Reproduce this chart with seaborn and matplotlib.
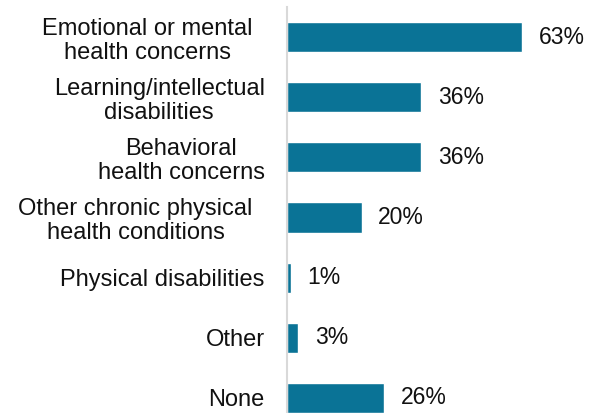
import matplotlib
matplotlib.use("Agg")
import matplotlib.pyplot as plt
import matplotlib.transforms as mtransforms
import seaborn as sns
import pandas as pd

categories = [
    "Emotional or mental\nhealth concerns",
    "Learning/intellectual\ndisabilities",
    "Behavioral\nhealth concerns",
    "Other chronic physical\nhealth conditions",
    "Physical disabilities",
    "Other",
    "None",
]
values = [63, 36, 36, 20, 1, 3, 26]

df = pd.DataFrame({"category": categories, "pct": values})

sns.set_style("white")
plt.rcParams["font.family"] = ["Liberation Sans", "DejaVu Sans"]

W, H = 592, 413
fig = plt.figure(figsize=(W / 100, H / 100), dpi=100)
ax = fig.add_axes([287 / W, 0, (W - 287) / W, 406 / H])

sns.barplot(data=df, x="pct", y="category", orient="h", color="#0a7396",
            saturation=1, width=0.5, ax=ax)

ax.set_xlim(0, (W - 287) / 3.73)
ax.set_ylim(6.25, -0.5)
ax.set_xlabel("")
ax.set_ylabel("")
ax.set_xticks([])

for s in ["top", "right", "bottom"]:
    ax.spines[s].set_visible(False)
ax.spines["left"].set_color("#d9d9d9")
ax.spines["left"].set_linewidth(1.5)

ax.tick_params(axis="y", length=0, pad=16, labelsize=17, labelcolor="#111111")
# the two widest labels sit a little further from the axis
nudge = mtransforms.ScaledTranslation(-12 / 100, 0, fig.dpi_scale_trans)
for i, lbl in enumerate(ax.get_yticklabels()):
    lbl.set_multialignment("center")
    lbl.set_linespacing(1.12)
    if i in (0, 3):
        lbl.set_transform(lbl.get_transform() + nudge)

ax.bar_label(ax.containers[0], labels=[f"{v}%" for v in values],
             padding=12, fontsize=16.5, color="#111111")

fig.savefig("out.png", dpi=100)
